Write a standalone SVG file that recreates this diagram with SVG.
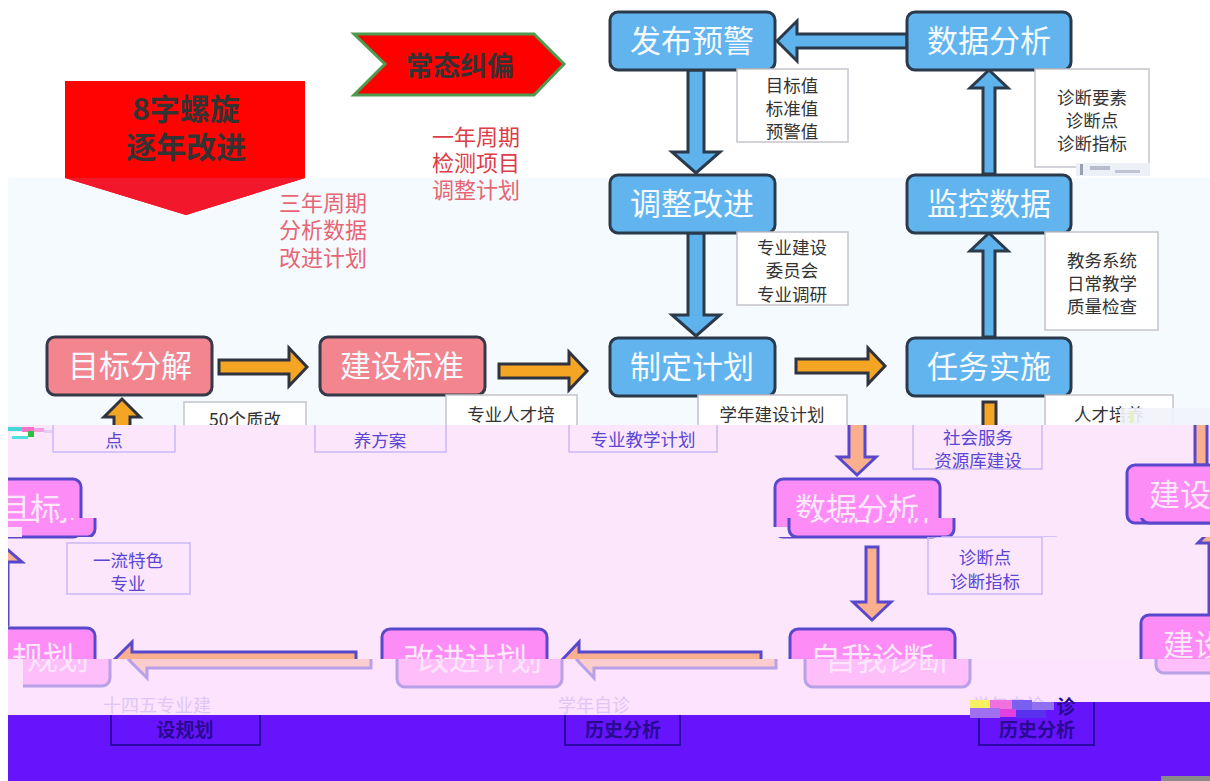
<svg xmlns="http://www.w3.org/2000/svg" xmlns:xlink="http://www.w3.org/1999/xlink" width="1210" height="781" viewBox="0 0 1210 781">
<style>
text{font-family:"Noto Sans CJK SC","Noto Sans",sans-serif;text-anchor:middle}
.bbox{fill:#62b4ee;stroke:#2b3a4a;stroke-width:3}
.btxt{fill:#f4faff;font-size:31px}
.rbox{fill:#f3858f;stroke:#37384a;stroke-width:3}
.barrow{fill:#5fb3ec;stroke:#2b3a4a;stroke-width:3;stroke-linejoin:miter}
.oarrow{fill:#f5a524;stroke:#2f3340;stroke-width:3}
.lab{fill:#ffffff;stroke:#c4c4cc;stroke-width:1.5}
.labt{fill:#333;font-size:17.5px}
.red{font-size:22px}
.pbox{fill:#fe8cf6;stroke:#5a48cc;stroke-width:3}
.ptxt{fill:#fde8fd;font-size:31px}
.parrow{fill:#fab08e;stroke:#5a48cc;stroke-width:3}
.plab{fill:none;stroke:#cbb8f6;stroke-width:1.5}
.plabt{fill:#5a46d2;font-size:17.5px}
.ghost{fill:#e0c6f6;font-size:18px}
.dark{fill:#2a0a92;font-size:19px;font-weight:bold}
</style>
<defs>
<clipPath id="upperClip"><rect x="0" y="0" width="1210" height="425"/></clipPath>
<clipPath id="lowerClip"><rect x="8" y="425" width="1202" height="290"/></clipPath>
<clipPath id="band1"><rect x="8" y="518" width="1202" height="19"/></clipPath>
<clipPath id="band2"><path d="M8 659 H1210 V702 H970 V717 H8 Z"/></clipPath>
</defs>

<rect x="0" y="0" width="1210" height="781" fill="#ffffff"/>
<rect x="8" y="178" width="1202" height="247" fill="#f5fafe"/>
<rect x="8" y="425" width="1202" height="290" fill="#fbe6fc"/>

<g id="upper" clip-path="url(#upperClip)">
  <g id="banner-spiral">
    <polygon points="65,81 305,81 305,178 186,215 65,178" fill="#ff0303"/>
    <polygon points="65,178 305,178 186,215" fill="#f3172c"/>
    <text x="186" y="120" style="font-size:30px;font-weight:bold;fill:#333">8字螺旋</text>
    <text x="186" y="158" style="font-size:30px;font-weight:bold;fill:#333">逐年改进</text>
  </g>
  <g id="banner-correct">
    <polygon points="354,34 534,34 564,64 534,95 354,95 385,64" fill="#ff0000" stroke="#4f9a4f" stroke-width="3"/>
    <text x="460" y="76" style="font-size:27px;font-weight:bold;fill:#333">常态纠偏</text>
  </g>
  <g id="note-one-year">
    <text class="red" x="476" y="145" fill="#dd3d49"><tspan x="476" y="145">一年周期</tspan><tspan x="476" y="171">检测项目</tspan><tspan x="476" y="198" fill="#e66673">调整计划</tspan></text>
  </g>
  <g id="note-three-year">
    <text class="red" x="323" y="211" fill="#e66673"><tspan x="323" y="211">三年周期</tspan><tspan x="323" y="238">分析数据</tspan><tspan x="323" y="266">改进计划</tspan></text>
  </g>

  <g id="connectors">
    <polygon class="barrow" points="907,34 797,34 797,21 777,41 797,61 797,48 907,48"/>
    <polygon class="barrow" points="688,70 688,152 672,152 696,173 720,152 704,152 704,70"/>
    <polygon class="barrow" points="688,233 688,315 672,315 696,336 720,315 704,315 704,233"/>
    <polygon class="barrow" points="983,174 983,88 970,88 989,70 1008,88 995,88 995,174"/>
    <polygon class="barrow" points="983,337 983,251 970,251 989,233 1008,251 995,251 995,337"/>
    <polygon class="oarrow" points="219,360 289,360 289,348 307,367 289,386 289,374 219,374"/>
    <polygon class="oarrow" points="499,364 569,364 569,352 587,371 569,390 569,378 499,378"/>
    <polygon class="oarrow" points="796,359 868,359 868,348 885,366 868,384 868,373 796,373"/>
    <polygon class="oarrow" points="114,440 114,417 104,417 122,399 140,417 130,417 130,440"/>
    <rect class="oarrow" x="983" y="402" width="13" height="40"/>
  </g>

  <g id="node-warn"><rect class="bbox" x="610" y="12" width="165" height="58" rx="8"/><text class="btxt" x="692" y="52">发布预警</text></g>
  <g id="node-analyze"><rect class="bbox" x="907" y="12" width="164" height="58" rx="8"/><text class="btxt" x="989" y="52">数据分析</text></g>
  <g id="node-adjust"><rect class="bbox" x="610" y="175" width="165" height="58" rx="8"/><text class="btxt" x="692" y="215">调整改进</text></g>
  <g id="node-monitor"><rect class="bbox" x="907" y="175" width="164" height="58" rx="8"/><text class="btxt" x="989" y="215">监控数据</text></g>
  <g id="node-plan"><rect class="bbox" x="610" y="338" width="165" height="58" rx="8"/><text class="btxt" x="692" y="378">制定计划</text></g>
  <g id="node-implement"><rect class="bbox" x="907" y="338" width="164" height="58" rx="8"/><text class="btxt" x="989" y="378">任务实施</text></g>
  <g id="node-goal"><rect class="rbox" x="47" y="337" width="165" height="58" rx="8"/><text class="btxt" x="130" y="377">目标分解</text></g>
  <g id="node-standard"><rect class="rbox" x="320" y="337" width="165" height="58" rx="8"/><text class="btxt" x="402" y="377">建设标准</text></g>

  <g id="label-values"><rect class="lab" x="737" y="69" width="111" height="73"/>
    <text class="labt" x="792" y="92">目标值</text><text class="labt" x="792" y="115">标准值</text><text class="labt" x="792" y="138">预警值</text></g>
  <g id="label-diagnose"><rect class="lab" x="1035" y="69" width="114" height="98"/>
    <text class="labt" x="1092" y="104">诊断要素</text><text class="labt" x="1092" y="127">诊断点</text><text class="labt" x="1092" y="150">诊断指标</text></g>
  <g id="label-committee"><rect class="lab" x="737" y="232" width="111" height="73"/>
    <text class="labt" x="792" y="254">专业建设</text><text class="labt" x="792" y="277">委员会</text><text class="labt" x="792" y="301">专业调研</text></g>
  <g id="label-system"><rect class="lab" x="1045" y="232" width="113" height="98"/>
    <text class="labt" x="1102" y="267">教务系统</text><text class="labt" x="1102" y="290">日常教学</text><text class="labt" x="1102" y="313">质量检查</text></g>
  <g id="label-50"><rect class="lab" x="184" y="402" width="122" height="40"/><text class="labt" x="245" y="426">50个质改</text></g>
  <g id="label-talent"><rect class="lab" x="446" y="395" width="131" height="45"/><text class="labt" x="511" y="421">专业人才培</text></g>
  <g id="label-yearplan"><rect class="lab" x="698" y="395" width="149" height="45"/><text class="labt" x="772" y="421">学年建设计划</text></g>
  <g id="label-talent2"><rect class="lab" x="1045" y="395" width="128" height="45"/><text class="labt" x="1109" y="421">人才培养</text></g>
  <rect x="1120" y="408" width="90" height="17" fill="#f1f3fa" opacity="0.9"/>
  <rect x="1130" y="411" width="4" height="12" fill="#e4f0c8"/>
  <rect x="1076" y="163" width="74" height="13" fill="#eef0f8"/>
  <rect x="1080" y="164" width="3" height="11" fill="#9aa0b0"/>
  <rect x="1090" y="166" width="20" height="4" fill="#b8bccc"/>
  <rect x="1115" y="170" width="25" height="3" fill="#c0c4d4"/>
</g>

<g id="lowerLayer" clip-path="url(#lowerClip)">
  <g id="lower-connectors">
    <polygon class="parrow" points="849,400 849,457 838,457 857,475 876,457 865,457 865,400"/>
    <polygon class="parrow" points="866,547 866,602 853,602 872,620 891,602 878,602 878,547"/>
    <polygon class="parrow" points="356,652 132,652 132,642 114,660 132,678 132,668 356,668"/>
    <polygon class="parrow" points="761,652 579,652 579,642 562,660 579,678 579,668 761,668"/>
    <polygon class="parrow" points="-8,625 -8,562 -22,562 0,543 22,562 8,562 8,625"/>
    <polygon class="parrow" points="1209,615 1209,543 1198,543 1217,524 1236,543 1225,543 1225,615"/>
    <rect class="parrow" x="1195" y="405" width="12" height="60"/>
  </g>
  <g id="lnode-goal"><rect class="pbox" x="-84" y="479" width="165" height="58" rx="8"/><text class="ptxt" x="-1" y="520" style="text-anchor:start">目标</text></g>
  <g id="lnode-analyze"><rect class="pbox" x="775" y="479" width="165" height="58" rx="8"/><text class="ptxt" x="857" y="520">数据分析</text></g>
  <g id="lnode-build1"><rect class="pbox" x="1127" y="465" width="165" height="58" rx="8"/><text class="ptxt" x="1149" y="506" style="text-anchor:start">建设</text></g>
  <g id="lnode-plan"><rect class="pbox" x="-70" y="628" width="165" height="58" rx="8"/><text class="ptxt" x="12" y="669" style="text-anchor:start">规划</text></g>
  <g id="lnode-improve"><rect class="pbox" x="382" y="629" width="165" height="58" rx="8"/><text class="ptxt" x="465" y="670">改进计划</text></g>
  <g id="lnode-self"><rect class="pbox" x="790" y="629" width="165" height="58" rx="8"/><text class="ptxt" x="872" y="670">自我诊断</text></g>
  <g id="lnode-build2"><rect class="pbox" x="1141" y="615" width="165" height="58" rx="8"/><text class="ptxt" x="1163" y="656" style="text-anchor:start">建设</text></g>

  <g id="llabel-point"><rect class="plab" x="53" y="405" width="122" height="47"/><text class="plabt" x="114" y="447">点</text></g>
  <g id="llabel-scheme"><rect class="plab" x="315" y="405" width="131" height="47"/><text class="plabt" x="380" y="447">养方案</text></g>
  <g id="llabel-teach"><rect class="plab" x="569" y="405" width="148" height="47"/><text class="plabt" x="643" y="446">专业教学计划</text></g>
  <g id="llabel-service"><rect class="plab" x="913" y="405" width="129" height="64"/><text class="plabt" x="978" y="444">社会服务</text><text class="plabt" x="978" y="467">资源库建设</text></g>
  <g id="llabel-major"><rect class="plab" x="67" y="543" width="123" height="51"/><text class="plabt" x="128" y="567">一流特色</text><text class="plabt" x="128" y="590">专业</text></g>
  <g id="llabel-diag"><rect class="plab" x="928" y="537" width="114" height="57"/><text class="plabt" x="985" y="564">诊断点</text><text class="plabt" x="985" y="588">诊断指标</text></g>
</g>

<g id="glitch-band1" clip-path="url(#band1)">
  <rect x="8" y="527" width="1202" height="10" fill="#fbe6fc"/>
  <use xlink:href="#lowerLayer" href="#lowerLayer" transform="translate(14,0)"/>
</g>
<g id="glitch-band2" clip-path="url(#band2)">
  <rect x="8" y="659" width="1202" height="58" fill="#fde3fd"/>
  <use xlink:href="#lowerLayer" href="#lowerLayer" transform="translate(15,0)" opacity="0.42"/>
  <text class="ghost" x="157" y="712">十四五专业建</text>
  <text class="ghost" x="594" y="712">学年自诊</text>
  <text class="ghost" x="1008" y="712">学年自诊</text>
</g>

<g id="bottom-band">
  <rect x="8" y="715" width="1202" height="66" fill="#6614fc"/>
  <rect x="970" y="702" width="240" height="13" fill="#6614fc"/>
  <path d="M111 715 V745 H260 V715" fill="none" stroke="#2c0aa6" stroke-width="2"/>
  <path d="M565 715 V745 H680 V715" fill="none" stroke="#2c0aa6" stroke-width="2"/>
  <path d="M979 702 V745 H1094 V702" fill="none" stroke="#2c0aa6" stroke-width="2"/>
  <text class="dark" x="185" y="737">设规划</text>
  <text class="dark" x="623" y="737">历史分析</text>
  <rect x="970" y="700" width="20" height="8" fill="#f6f060"/>
  <rect x="990" y="700" width="22" height="9" fill="#f070e0"/>
  <rect x="1012" y="700" width="20" height="10" fill="#7a60f0"/>
  <rect x="1032" y="702" width="22" height="8" fill="#9070f0"/>
  <rect x="970" y="708" width="30" height="10" fill="#a070f0"/>
  <rect x="1000" y="709" width="16" height="8" fill="#e040e0"/>
  <rect x="1016" y="710" width="30" height="8" fill="#5a30f0"/>
  <text class="dark" x="1066" y="714">诊</text>
  <text class="dark" x="1037" y="737">历史分析</text>
  <rect x="1161" y="776" width="49" height="5" fill="#8a8a8a"/>
</g>

<g id="noise-top-left">
  <rect x="8" y="427" width="14" height="4" fill="#40d8d8"/>
  <rect x="22" y="427" width="12" height="5" fill="#ff70c8"/>
  <rect x="10" y="432" width="18" height="4" fill="#ffffff"/>
  <rect x="28" y="431" width="6" height="6" fill="#30c040"/>
  <rect x="34" y="428" width="10" height="4" fill="#f8a0e0"/>
  <rect x="12" y="436" width="16" height="3" fill="#50e0e0"/>
  <rect x="44" y="430" width="8" height="3" fill="#e0d0f8"/>
</g>
</svg>
